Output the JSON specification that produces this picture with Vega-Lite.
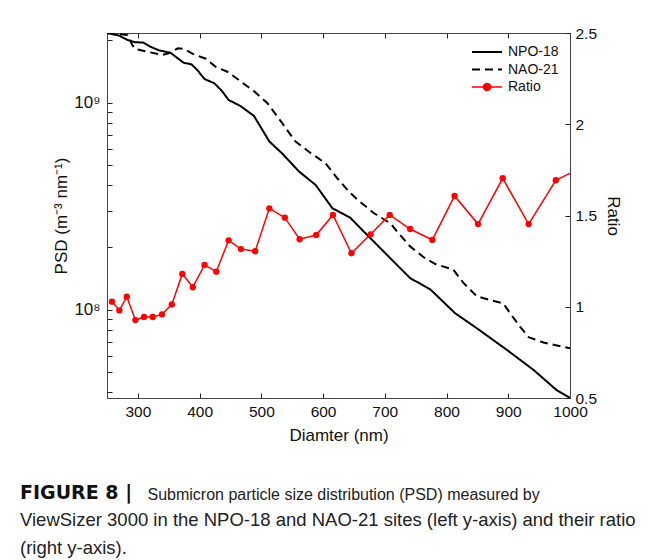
{
  "$schema": "https://vega.github.io/schema/vega-lite/v6.json",
  "autosize": {"type": "none"},
  "width": 463,
  "height": 365,
  "padding": {"left": 107, "top": 33, "right": 82, "bottom": 162},
  "background": "white",
  "config": {
    "font": "Liberation Sans",
    "view": {"stroke": "#444", "strokeWidth": 1},
    "axis": {"grid": false, "domainColor": "#444", "tickColor": "#222", "tickWidth": 1, "labelColor": "#111", "titleColor": "#111", "labelFontSize": 15.5, "titleFontSize": 17, "titleFontWeight": "normal", "tickSize": -5, "labelOverlap": false, "labelFlush": false}
  },
  "title": {
    "text": "FIGURE 8 |",
    "orient": "top",
    "anchor": "start",
    "frame": "group",
    "dx": -87,
    "offset": -531,
    "font": "DejaVu Sans",
    "fontSize": 19,
    "fontWeight": "bold",
    "color": "#111",
    "subtitle": [
      "ViewSizer 3000 in the NPO-18 and NAO-21 sites (left y-axis) and their ratio",
      "(right y-axis)."
    ],
    "subtitleFont": "Liberation Sans",
    "subtitleFontSize": 18.5,
    "subtitleColor": "#222",
    "subtitleLineHeight": 28,
    "subtitlePadding": 8
  },
  "datasets": {
    "psd": [
      {"d": 250, "v": 2170000000, "s": "NPO-18"},
      {"d": 269, "v": 2110000000, "s": "NPO-18"},
      {"d": 283, "v": 2010000000, "s": "NPO-18"},
      {"d": 295, "v": 1960000000, "s": "NPO-18"},
      {"d": 309, "v": 1950000000, "s": "NPO-18"},
      {"d": 321, "v": 1860000000, "s": "NPO-18"},
      {"d": 334, "v": 1790000000, "s": "NPO-18"},
      {"d": 353, "v": 1740000000, "s": "NPO-18"},
      {"d": 363, "v": 1650000000, "s": "NPO-18"},
      {"d": 374, "v": 1560000000, "s": "NPO-18"},
      {"d": 387, "v": 1530000000, "s": "NPO-18"},
      {"d": 396, "v": 1440000000, "s": "NPO-18"},
      {"d": 408, "v": 1300000000, "s": "NPO-18"},
      {"d": 424, "v": 1240000000, "s": "NPO-18"},
      {"d": 436, "v": 1140000000, "s": "NPO-18"},
      {"d": 447, "v": 1030000000, "s": "NPO-18"},
      {"d": 466, "v": 964000000, "s": "NPO-18"},
      {"d": 488, "v": 863000000, "s": "NPO-18"},
      {"d": 513, "v": 649000000, "s": "NPO-18"},
      {"d": 533, "v": 571000000, "s": "NPO-18"},
      {"d": 561, "v": 465000000, "s": "NPO-18"},
      {"d": 588, "v": 400000000, "s": "NPO-18"},
      {"d": 615, "v": 309000000, "s": "NPO-18"},
      {"d": 644, "v": 278000000, "s": "NPO-18"},
      {"d": 671, "v": 230000000, "s": "NPO-18"},
      {"d": 685, "v": 209000000, "s": "NPO-18"},
      {"d": 709, "v": 177000000, "s": "NPO-18"},
      {"d": 741, "v": 142000000, "s": "NPO-18"},
      {"d": 774, "v": 125000000, "s": "NPO-18"},
      {"d": 814, "v": 96000000, "s": "NPO-18"},
      {"d": 849, "v": 81300000, "s": "NPO-18"},
      {"d": 898, "v": 63800000, "s": "NPO-18"},
      {"d": 941, "v": 51100000, "s": "NPO-18"},
      {"d": 978, "v": 40900000, "s": "NPO-18"},
      {"d": 1000, "v": 37400000, "s": "NPO-18"},
      {"d": 250, "v": 2170000000, "s": "NAO-21"},
      {"d": 283, "v": 2120000000, "s": "NAO-21"},
      {"d": 291, "v": 1900000000, "s": "NAO-21"},
      {"d": 295, "v": 1820000000, "s": "NAO-21"},
      {"d": 316, "v": 1760000000, "s": "NAO-21"},
      {"d": 339, "v": 1700000000, "s": "NAO-21"},
      {"d": 350, "v": 1730000000, "s": "NAO-21"},
      {"d": 365, "v": 1830000000, "s": "NAO-21"},
      {"d": 374, "v": 1820000000, "s": "NAO-21"},
      {"d": 389, "v": 1720000000, "s": "NAO-21"},
      {"d": 410, "v": 1630000000, "s": "NAO-21"},
      {"d": 426, "v": 1490000000, "s": "NAO-21"},
      {"d": 445, "v": 1410000000, "s": "NAO-21"},
      {"d": 463, "v": 1290000000, "s": "NAO-21"},
      {"d": 489, "v": 1130000000, "s": "NAO-21"},
      {"d": 510, "v": 993000000, "s": "NAO-21"},
      {"d": 534, "v": 795000000, "s": "NAO-21"},
      {"d": 555, "v": 650000000, "s": "NAO-21"},
      {"d": 577, "v": 579000000, "s": "NAO-21"},
      {"d": 604, "v": 509000000, "s": "NAO-21"},
      {"d": 623, "v": 431000000, "s": "NAO-21"},
      {"d": 642, "v": 372000000, "s": "NAO-21"},
      {"d": 656, "v": 339000000, "s": "NAO-21"},
      {"d": 682, "v": 293000000, "s": "NAO-21"},
      {"d": 709, "v": 261000000, "s": "NAO-21"},
      {"d": 720, "v": 238000000, "s": "NAO-21"},
      {"d": 741, "v": 202000000, "s": "NAO-21"},
      {"d": 763, "v": 179000000, "s": "NAO-21"},
      {"d": 782, "v": 166000000, "s": "NAO-21"},
      {"d": 811, "v": 156000000, "s": "NAO-21"},
      {"d": 827, "v": 135000000, "s": "NAO-21"},
      {"d": 849, "v": 116000000, "s": "NAO-21"},
      {"d": 872, "v": 111000000, "s": "NAO-21"},
      {"d": 892, "v": 107000000, "s": "NAO-21"},
      {"d": 903, "v": 96000000, "s": "NAO-21"},
      {"d": 919, "v": 82800000, "s": "NAO-21"},
      {"d": 933, "v": 73600000, "s": "NAO-21"},
      {"d": 957, "v": 69300000, "s": "NAO-21"},
      {"d": 992, "v": 65800000, "s": "NAO-21"},
      {"d": 1000, "v": 65100000, "s": "NAO-21"}
    ],
    "ratio": [
      {"d": 258, "r": 1.028},
      {"d": 270, "r": 0.98},
      {"d": 282, "r": 1.055},
      {"d": 296, "r": 0.927},
      {"d": 310, "r": 0.944},
      {"d": 324, "r": 0.944},
      {"d": 339, "r": 0.958},
      {"d": 355, "r": 1.013},
      {"d": 372, "r": 1.18},
      {"d": 389, "r": 1.107},
      {"d": 408, "r": 1.229},
      {"d": 427, "r": 1.192},
      {"d": 447, "r": 1.364},
      {"d": 467, "r": 1.316},
      {"d": 490, "r": 1.304},
      {"d": 513, "r": 1.539},
      {"d": 538, "r": 1.488},
      {"d": 562, "r": 1.37},
      {"d": 589, "r": 1.393},
      {"d": 616, "r": 1.503},
      {"d": 646, "r": 1.293},
      {"d": 677, "r": 1.397},
      {"d": 708, "r": 1.503},
      {"d": 741, "r": 1.426},
      {"d": 777, "r": 1.366},
      {"d": 813, "r": 1.607},
      {"d": 851, "r": 1.453},
      {"d": 891, "r": 1.704},
      {"d": 933, "r": 1.453},
      {"d": 977, "r": 1.693},
      {"d": 1022, "r": 1.768}
    ]
  },
  "layer": [
    {
      "data": {"name": "psd"},
      "mark": {"type": "line", "strokeWidth": 2, "clip": true},
      "encoding": {
        "x": {
          "field": "d", "type": "quantitative",
          "scale": {"domain": [250, 1000], "nice": false, "zero": false},
          "axis": {"orient": "bottom", "title": "Diamter (nm)", "values": [300, 400, 500, 600, 700, 800, 900, 1000], "labelExpr": "toString(datum.value)", "labelPadding": 11, "titlePadding": 8}
        },
        "y": {
          "field": "v", "type": "quantitative",
          "scale": {"type": "log", "domain": [37400000, 2170000000], "nice": false},
          "axis": {
            "orient": "left",
            "title": "PSD (m\u207b\u00b3 nm\u207b\u00b9)",
            "values": [40000000, 50000000, 60000000, 70000000, 80000000, 90000000, 100000000, 200000000, 300000000, 400000000, 500000000, 600000000, 700000000, 800000000, 900000000, 1000000000, 2000000000],
            "labelExpr": "datum.value == 100000000 ? '10\u2078' : (datum.value == 1000000000 ? '10\u2079' : '')",
            "labelFontSize": 17,
            "labelPadding": 12,
            "titlePadding": 3
          }
        },
        "color": {
          "field": "s", "type": "nominal",
          "scale": {"domain": ["NPO-18", "NAO-21", "Ratio"], "range": ["#000000", "#000000", "#ff0000"]},
          "legend": {
            "orient": "none", "legendX": 373, "legendY": 12, "title": null, "padding": 0,
            "symbolType": "M-3,0H3", "symbolSize": 100, "symbolStrokeWidth": 2,
            "labelFontSize": 14, "labelColor": "#111", "labelOffset": 14, "rowPadding": 3.5,
            "encode": {
              "symbols": {
                "update": {
                  "strokeDash": {"signal": "datum.value === 'NAO-21' ? [8, 5] : [1, 0]"},
                  "shape": {"signal": "datum.value === 'Ratio' ? 'M-3,0H3M-0.7,0A0.7,0.7 0 1,0 0.7,0A0.7,0.7 0 1,0 -0.7,0' : 'M-3,0H3'"},
                  "fill": {"signal": "datum.value === 'Ratio' ? '#ff0000' : 'transparent'"},
                  "strokeWidth": {"signal": "datum.value === 'Ratio' ? 1.5 : 2"}
                }
              }
            }
          }
        },
        "strokeDash": {
          "field": "s", "type": "nominal",
          "scale": {"domain": ["NPO-18", "NAO-21"], "range": [[1, 0], [8, 5]]},
          "legend": null
        }
      }
    },
    {
      "data": {"name": "ratio"},
      "mark": {"type": "line", "strokeWidth": 1.5, "clip": true, "point": {"filled": true, "size": 40, "opacity": 1}},
      "encoding": {
        "x": {
          "field": "d", "type": "quantitative",
          "scale": {"domain": [250, 1000], "nice": false, "zero": false},
          "axis": {
            "orient": "top", "labels": false, "values": [300, 400, 500, 600, 700, 800, 900, 1000],
            "title": "Submicron particle size distribution (PSD) measured by",
            "titleX": 40, "titleY": 466, "titleAlign": "left", "titleBaseline": "alphabetic", "titleAngle": 0,
            "titleFont": "Liberation Sans", "titleFontSize": 16, "titleColor": "#222"
          }
        },
        "y": {
          "field": "r", "type": "quantitative",
          "scale": {"domain": [0.5, 2.5], "nice": false, "zero": false},
          "axis": {"orient": "right", "title": "Ratio", "values": [0.5, 1, 1.5, 2, 2.5], "labelExpr": "toString(datum.value)", "labelPadding": 10, "titlePadding": 7}
        },
        "color": {"datum": "Ratio"}
      }
    }
  ],
  "resolve": {"scale": {"y": "independent"}, "axis": {"x": "independent"}}
}
